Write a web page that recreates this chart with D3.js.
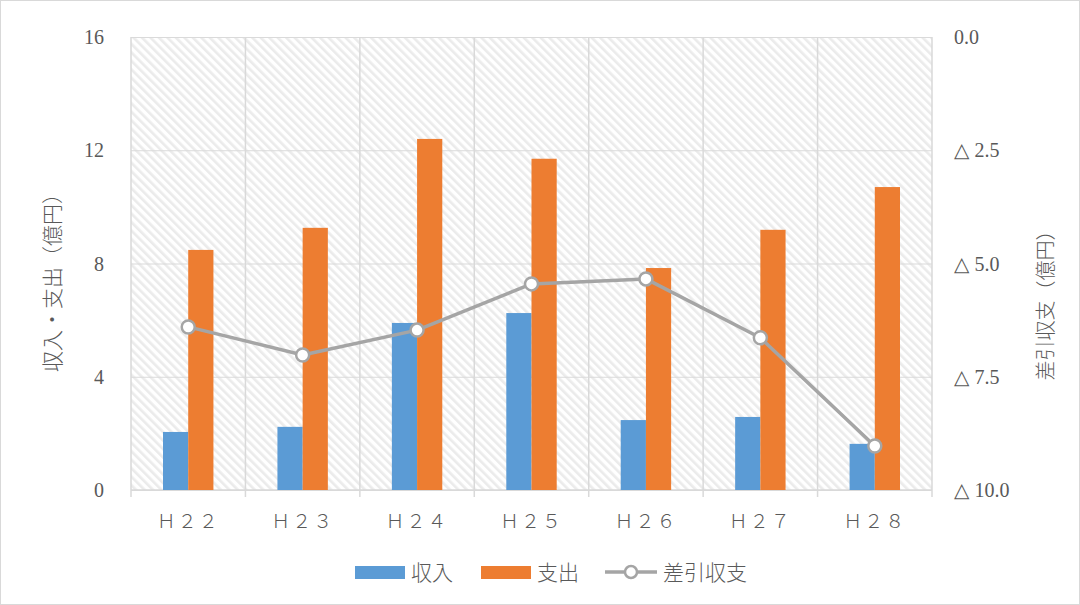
<!DOCTYPE html>
<html>
<head>
<meta charset="utf-8">
<script src="https://cdn.jsdelivr.net/npm/d3@7"></script>
<style>
  body { margin: 0; background: #fff; }
  text { fill: #595959; }
</style>
</head>
<body>
<div id="chart"></div>
<script>
// data
const years = ['Ｈ２２', 'Ｈ２３', 'Ｈ２４', 'Ｈ２５', 'Ｈ２６', 'Ｈ２７', 'Ｈ２８']
const income = [2.05, 2.23, 5.9, 6.25, 2.47, 2.58, 1.63]
const expense = [8.48, 9.26, 12.4, 11.7, 7.84, 9.19, 10.7]
const balance = [-6.4, -7.02, -6.47, -5.45, -5.34, -6.64, -9.03]
const leftTicks = [0, 4, 8, 12, 16]
const rightTicks = [0, -2.5, -5, -7.5, -10]

const W = 1080, H = 605
const m = {left: 131, right: 148, top: 37, bottom: 115}
const pw = W - m.left - m.right, ph = H - m.top - m.bottom

const svg = d3.select('#chart').append('svg')
    .attr('width', W).attr('height', H)

// outer chart border
svg.append('rect').attr('x', 0.5).attr('y', 0.5)
    .attr('width', W - 1).attr('height', H - 1)
    .attr('fill', 'none').attr('stroke', '#d9d9d9')

// hatch fill for plot area
let defs = svg.append('defs')
let pat = defs.append('pattern').attr('id', 'hatch')
    .attr('patternUnits', 'userSpaceOnUse')
    .attr('width', 6).attr('height', 6)
    .attr('patternTransform', 'rotate(-45)')
pat.append('rect').attr('width', 6).attr('height', 6).attr('fill', '#ffffff')
pat.append('rect').attr('width', 2.6).attr('height', 6).attr('fill', '#ebebeb')

let g = svg.append('g').attr('transform', `translate(${m.left},${m.top})`)

let x = d3.scaleBand().domain(years).range([0, pw])
let xi = d3.scaleBand().domain(['in', 'out']).range([0, x.bandwidth()]).paddingInner(0).paddingOuter(1.27)
let yL = d3.scaleLinear().domain([0, 16]).range([ph, 0])
let yR = d3.scaleLinear().domain([-10, 0]).range([ph, 0])

g.append('rect').attr('width', pw).attr('height', ph).attr('fill', 'url(#hatch)')

// horizontal gridlines
g.append('g').call(d3.axisLeft(yL).tickValues(leftTicks).tickSize(-pw).tickFormat(''))
    .call(s => s.select('.domain').remove())
    .selectAll('line').attr('stroke', '#dadada').attr('stroke-width', 1.2)

// vertical category separators
let seps = d3.range(years.length + 1).map(i => i * x.step())
g.selectAll('.vsep').data(seps).enter().append('line')
    .attr('x1', d => d).attr('x2', d => d)
    .attr('y1', 0).attr('y2', ph + 7)
    .attr('stroke', '#d9d9d9').attr('stroke-width', 1.5)
g.append('line').attr('x1', 0).attr('x2', pw).attr('y1', ph).attr('y2', ph)
    .attr('stroke', '#d9d9d9').attr('stroke-width', 1.5)

// bars
let grp = g.selectAll('.grp').data(years).enter().append('g')
    .attr('transform', d => `translate(${x(d)},0)`)
grp.append('rect')
    .attr('x', xi('in')).attr('width', xi.bandwidth())
    .attr('y', (d, i) => yL(income[i])).attr('height', (d, i) => ph - yL(income[i]))
    .attr('fill', '#5b9bd5')
grp.append('rect')
    .attr('x', xi('out')).attr('width', xi.bandwidth())
    .attr('y', (d, i) => yL(expense[i])).attr('height', (d, i) => ph - yL(expense[i]))
    .attr('fill', '#ed7d31')

// balance line
let line = d3.line().x((d, i) => x(years[i]) + x.bandwidth() / 2).y(d => yR(d))
g.append('path').attr('d', line(balance))
    .attr('fill', 'none').attr('stroke', '#a5a5a5').attr('stroke-width', 3.5)
    .attr('stroke-linejoin', 'round')
g.selectAll('.pt').data(balance).enter().append('circle')
    .attr('cx', (d, i) => x(years[i]) + x.bandwidth() / 2)
    .attr('cy', d => yR(d)).attr('r', 6.5)
    .attr('fill', '#fff').attr('stroke', '#a5a5a5').attr('stroke-width', 2.5)

// axes labels
const serif = 'Liberation Serif, DejaVu Serif, serif'
const cjk = 'Noto Sans CJK JP, sans-serif'
g.selectAll('.lt').data(leftTicks).enter().append('text')
    .attr('x', -27).attr('y', d => yL(d)).attr('dy', '0.35em')
    .attr('text-anchor', 'end')
    .attr('font-family', serif).attr('font-size', 20)
    .text(d => d)
g.selectAll('.rt').data(rightTicks).enter().append('text')
    .attr('x', pw + 22).attr('y', d => yR(d)).attr('dy', '0.35em')
    .attr('text-anchor', 'start')
    .attr('font-family', serif).attr('font-size', 20)
    .text(d => d === 0 ? '0.0' : '△ ' + Math.abs(d).toFixed(1))
g.selectAll('.xt').data(years).enter().append('text')
    .attr('x', d => x(d) + x.bandwidth() / 2).attr('y', ph + 38)
    .attr('text-anchor', 'middle')
    .attr('font-family', cjk).attr('font-size', 19).attr('font-weight', 300)
    .attr('letter-spacing', 2)
    .text(d => d)

svg.append('text')
    .attr('transform', `translate(60,${m.top + ph / 2 + 14}) rotate(-90)`)
    .attr('text-anchor', 'middle')
    .attr('font-family', cjk).attr('font-size', 21).attr('font-weight', 300)
    .text('収入・支出（億円）')
svg.append('text')
    .attr('transform', `translate(1053,${m.top + ph / 2 + 37}) rotate(-90)`)
    .attr('text-anchor', 'middle')
    .attr('font-family', cjk).attr('font-size', 20).attr('font-weight', 300)
    .text('差引収支（億円）')

// legend
let lg = svg.append('g').attr('transform', 'translate(355,572)')
const legendItems = [
  {label: '収入', type: 'bar', color: '#5b9bd5', x: 0},
  {label: '支出', type: 'bar', color: '#ed7d31', x: 126},
  {label: '差引収支', type: 'line', color: '#a5a5a5', x: 250}
]
legendItems.forEach(it => {
  let gi = lg.append('g').attr('transform', `translate(${it.x},0)`)
  if (it.type === 'bar') {
    gi.append('rect').attr('x', 0).attr('y', -6).attr('width', 50).attr('height', 13).attr('fill', it.color)
  } else {
    gi.append('line').attr('x1', 0).attr('x2', 52).attr('y1', 0).attr('y2', 0)
        .attr('stroke', it.color).attr('stroke-width', 3.5)
    gi.append('circle').attr('cx', 26).attr('cy', 0).attr('r', 6)
        .attr('fill', '#fff').attr('stroke', it.color).attr('stroke-width', 2.5)
  }
  gi.append('text').attr('x', it.type === 'bar' ? 56 : 58).attr('y', 0).attr('dy', '0.36em')
      .attr('font-family', cjk).attr('font-size', 21).attr('font-weight', 300)
      .text(it.label)
})
</script>
</body>
</html>
